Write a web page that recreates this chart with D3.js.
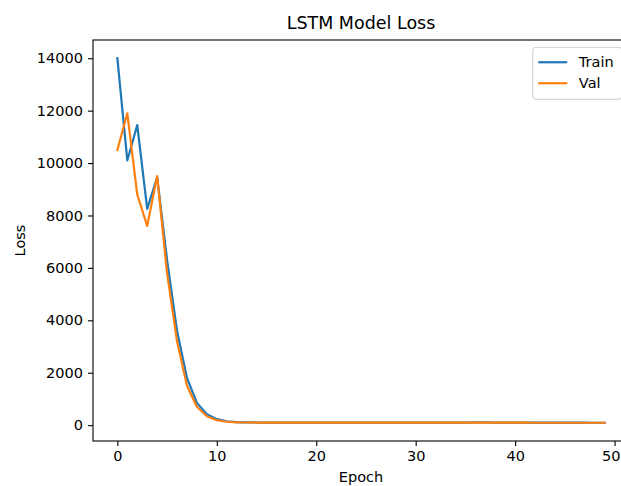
<!DOCTYPE html>
<html>
<head>
<meta charset="utf-8">
<script src="https://cdn.jsdelivr.net/npm/d3@7"></script>
<style>
  html, body { margin: 0; padding: 0; background: #fff; overflow: hidden; }
  svg { display: block; font-family: "DejaVu Sans", sans-serif; }
</style>
</head>
<body>
<svg id="chart" width="621" height="486"></svg>
<script>
// ---- data ----
const epochs = d3.range(0, 50);
const trainLoss = [
  14000, 10100, 11450, 8250, 9450, 6300, 3600, 1800, 850, 420,
  230, 150, 115, 105, 102, 100, 99, 98, 98, 97,
  97, 96, 96, 96, 95, 95, 95, 95, 94, 94,
  94, 94, 94, 93, 93, 95, 108, 104, 100, 98,
  97, 96, 95, 95, 94, 94, 93, 93, 92, 92
];
const valLoss = [
  10500, 11900, 8800, 7600, 9500, 5800, 3200, 1500, 700, 340,
  190, 130, 108, 102, 100, 99, 98, 97, 97, 96,
  96, 96, 95, 95, 95, 95, 94, 94, 94, 94,
  93, 93, 93, 93, 93, 93, 94, 94, 93, 93,
  93, 93, 92, 92, 92, 92, 92, 91, 91, 91
];
const xTicks = [0, 10, 20, 30, 40, 50];
const yTicks = [0, 2000, 4000, 6000, 8000, 10000, 12000, 14000];
const seriesNames = ["Train", "Val"];
const seriesColors = ["#1f77b4", "#ff7f0e"];
const titleText = "LSTM Model Loss";
const xLabel = "Epoch";
const yLabel = "Loss";

// ---- layout ----
const W = 621, H = 486;
const mLeft = 93, mRight = 629, mTop = 40, mBottom = 441;
const fs = 14.5;

const svg = d3.select("#chart");

// matplotlib-like 5% margins
const xExt = d3.extent(epochs);
const xPad = (xExt[1] - xExt[0]) * 0.05;
const allY = trainLoss.concat(valLoss);
const yExt = d3.extent(allY);
const yPad = (yExt[1] - yExt[0]) * 0.05;

const x = d3.scaleLinear().domain([xExt[0] - xPad, xExt[1] + xPad]).range([mLeft, mRight]);
const y = d3.scaleLinear().domain([yExt[0] - yPad, yExt[1] + yPad]).range([mBottom, mTop]);

// clip
svg.append("defs").append("clipPath").attr("id", "clip")
  .append("rect").attr("x", mLeft).attr("y", mTop).attr("width", mRight - mLeft).attr("height", mBottom - mTop);

// lines
const line = d3.line().x((d, i) => x(epochs[i])).y(d => y(d));
const series = [trainLoss, valLoss];
series.forEach((s, k) => {
  svg.append("path")
    .datum(s)
    .attr("clip-path", "url(#clip)")
    .attr("fill", "none")
    .attr("stroke", seriesColors[k])
    .attr("stroke-width", 2.2)
    .attr("stroke-linejoin", "round")
    .attr("stroke-linecap", "square")
    .attr("d", line);
});

// axes
const xAxis = d3.axisBottom(x).tickValues(xTicks).tickSize(5).tickPadding(5).tickFormat(d3.format("d"));
const yAxis = d3.axisLeft(y).tickValues(yTicks).tickSize(5).tickPadding(5).tickFormat(d3.format("d"));

const gx = svg.append("g").attr("transform", `translate(0,${mBottom})`).call(xAxis);
const gy = svg.append("g").attr("transform", `translate(${mLeft},0)`).call(yAxis);
[gx, gy].forEach(g => {
  g.select(".domain").remove();
  g.selectAll("line").attr("stroke", "#000").attr("stroke-width", 1.1);
  g.selectAll("text").attr("fill", "#000").style("font-size", fs + "px").style("font-family", "DejaVu Sans");
});
// keep the last x tick label inside the picture
gx.selectAll(".tick").each(function(d) {
  const t = d3.select(this).select("text");
  const bb = t.node().getBBox();
  const absRight = x(d) + bb.x + bb.width;
  if (absRight > W - 1) {
    t.attr("text-anchor", "end").attr("x", (W - 1) - x(d));
  }
});

// spines
svg.append("rect")
  .attr("x", mLeft).attr("y", mTop)
  .attr("width", mRight - mLeft).attr("height", mBottom - mTop)
  .attr("fill", "none").attr("stroke", "#000").attr("stroke-width", 1.1);

// title & labels
svg.append("text")
  .attr("x", (mLeft + mRight) / 2).attr("y", mTop - 11)
  .attr("text-anchor", "middle")
  .style("font-size", "17.5px")
  .text(titleText);

svg.append("text")
  .attr("x", (mLeft + mRight) / 2).attr("y", 481.5)
  .attr("text-anchor", "middle")
  .style("font-size", fs + "px")
  .text(xLabel);

svg.append("text")
  .attr("transform", `translate(${25},${(mTop + mBottom) / 2}) rotate(-90)`)
  .attr("text-anchor", "middle")
  .style("font-size", fs + "px")
  .text(yLabel);

// legend
const lgRight = mRight - 0.5 * fs;
const lgW = 89, lgH = 52;
const lgX = lgRight - lgW, lgY = mTop + 0.5 * fs;
const lg = svg.append("g");
lg.append("rect")
  .attr("x", lgX).attr("y", lgY)
  .attr("width", lgW).attr("height", lgH)
  .attr("rx", 3).attr("ry", 3)
  .attr("fill", "#fff").attr("fill-opacity", 0.8)
  .attr("stroke", "#cccccc").attr("stroke-width", 1);
seriesNames.forEach((name, i) => {
  const cy = lgY + 15 + i * 21;
  lg.append("line")
    .attr("x1", lgX + 5.5).attr("x2", lgX + 5.5 + 2 * fs)
    .attr("y1", cy).attr("y2", cy)
    .attr("stroke", seriesColors[i]).attr("stroke-width", 2.2);
  lg.append("text")
    .attr("x", lgX + 5.5 + 2 * fs + 0.8 * fs)
    .attr("y", cy).attr("dy", "0.35em")
    .style("font-size", fs + "px")
    .text(name);
});
</script>
</body>
</html>
